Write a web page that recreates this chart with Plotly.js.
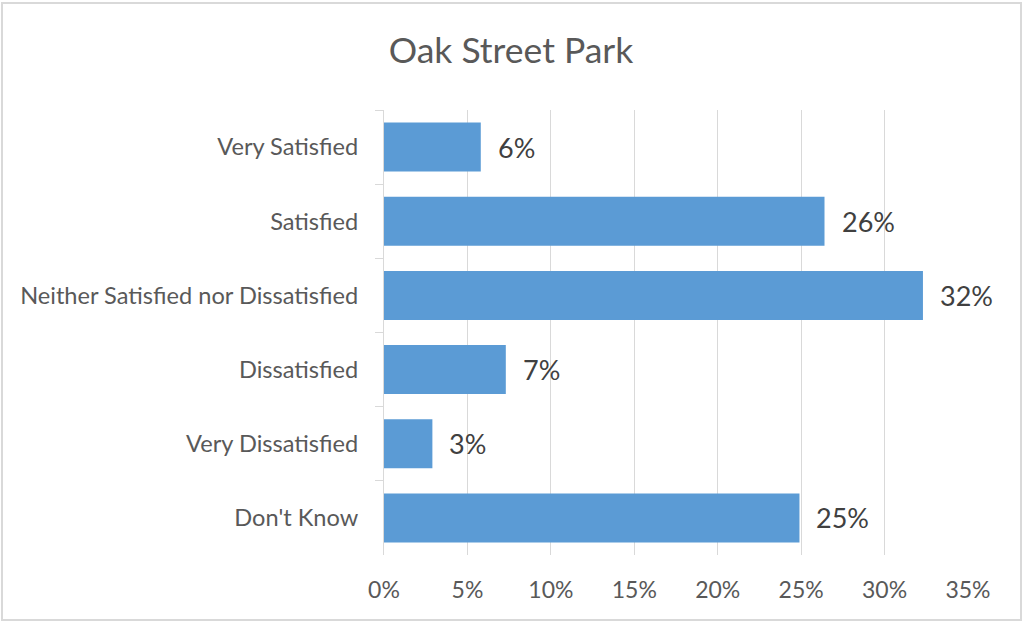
<!DOCTYPE html>
<html>
<head>
<meta charset="utf-8">
<script src="https://cdn.plot.ly/plotly-3.0.1.min.js"></script>
<style>
html,body{margin:0;padding:0;background:#fff;}
#wrap{position:absolute;left:1px;top:2px;width:1017px;height:615px;border:2px solid #d9d9d9;}
#chart{position:absolute;left:-3px;top:-4px;width:1022px;height:622px;}
</style>
</head>
<body>
<div id="wrap"><div id="chart"></div></div>
<script>
const categories = ["Very Satisfied","Satisfied","Neither Satisfied nor Dissatisfied","Dissatisfied","Very Dissatisfied","Don't Know"];
const values = [0.058, 0.264, 0.323, 0.073, 0.029, 0.249];
const valueLabels = ["6%","26%","32%","7%","3%","25%"];
const tickVals = [0,0.05,0.10,0.15,0.20,0.25,0.30,0.35];
const tickText = ["0%","5%","10%","15%","20%","25%","30%","35%"];

const font = "Lato, 'Open Sans', sans-serif";

const trace = {
  type: 'bar',
  orientation: 'h',
  y: categories,
  x: values,
  marker: {color: '#5b9bd5', line: {width: 0}},
  hoverinfo: 'none'
};

const annotations = categories.map((c, i) => ({
  x: values[i], y: c, xref: 'x', yref: 'y',
  text: valueLabels[i], showarrow: false,
  xanchor: 'left', yanchor: 'middle', xshift: 15,
  font: {family: font, size: 27, color: '#404040'}
}));

const layout = {
  width: 1022, height: 622,
  margin: {l: 384, r: 54, t: 110, b: 67, pad: 0},
  paper_bgcolor: 'rgba(0,0,0,0)',
  plot_bgcolor: '#fff',
  title: {text: 'Oak Street Park', x: 0.5, xanchor: 'center', y: 0.918, yanchor: 'middle',
          font: {family: font, size: 35.5, color: '#595959'}},
  bargap: 0.34,
  showlegend: false,
  xaxis: {
    range: [0, 0.35], tickvals: tickVals, ticktext: tickText,
    showgrid: true, gridcolor: '#d9d9d9', gridwidth: 1,
    zeroline: false, showline: false, ticks: '',
    ticklabelstandoff: 19,
    tickfont: {family: font, size: 23, color: '#595959'},
    fixedrange: true
  },
  yaxis: {
    autorange: 'reversed', type: 'category',
    showgrid: false, zeroline: false,
    showline: true, linecolor: '#d9d9d9', linewidth: 1,
    ticks: 'outside', ticklen: 8, tickcolor: '#d9d9d9', tickson: 'boundaries',
    ticklabelstandoff: 20,
    tickfont: {family: font, size: 23.6, color: '#595959'},
    fixedrange: true
  },
  annotations: annotations
};

Plotly.newPlot('chart', [trace], layout, {displayModeBar: false, staticPlot: true});
</script>
</body>
</html>
